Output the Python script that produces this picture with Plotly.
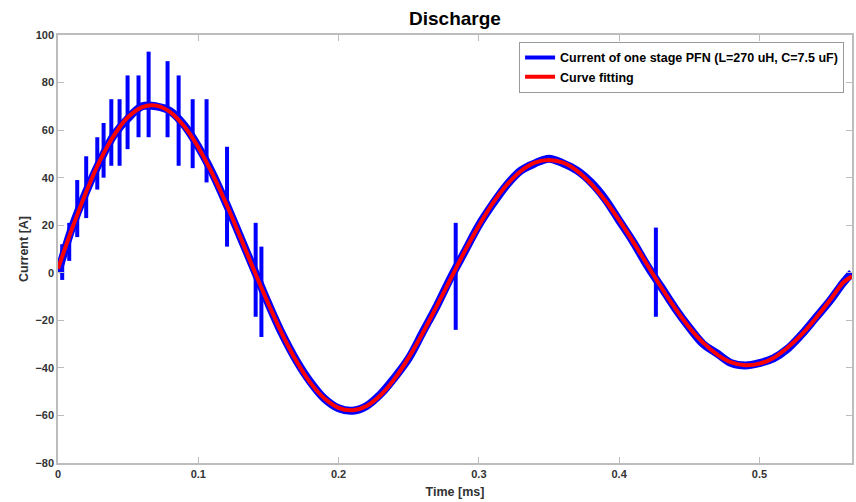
import plotly.graph_objects as go

# ---- data ----
time_ms = [0.00, 0.01, 0.02, 0.03, 0.04, 0.05, 0.06, 0.07, 0.08, 0.09,
           0.10, 0.11, 0.12, 0.13, 0.14, 0.15, 0.16, 0.17, 0.18, 0.19,
           0.20, 0.21, 0.22, 0.23, 0.24, 0.25, 0.26, 0.27, 0.28, 0.29,
           0.30, 0.31, 0.32, 0.33, 0.34, 0.35, 0.36, 0.37, 0.38, 0.39,
           0.40, 0.41, 0.42, 0.43, 0.44, 0.45, 0.46, 0.47, 0.48, 0.49,
           0.50, 0.51, 0.52, 0.53, 0.54, 0.55, 0.56, 0.566]

fit_current = [1.7, 18.5, 33.9, 47.3, 57.9, 65.5, 69.7, 70.3, 67.6, 61.6,
               52.8, 41.7, 28.9, 14.9, 0.7, -13.1, -26.0, -37.2, -46.3, -52.9,
               -56.8, -57.8, -56.0, -51.4, -44.5, -35.7, -25.3, -14.0, -2.4, 9.1,
               19.8, 29.3, 37.0, 42.8, 46.3, 47.4, 46.3, 42.9, 37.5, 30.5,
               22.1, 13.0, 3.4, -6.1, -15.0, -23.0, -29.5, -34.4, -37.7, -38.9,
               -38.2, -35.8, -31.5, -26.0, -19.2, -11.8, -4.0, -1.5]

measured_current = [0, 19, 34, 47, 58, 65, 70, 70, 68, 62,
                    53, 42, 29, 15, 1, -13, -26, -37, -46, -53,
                    -57, -58, -56, -51, -44, -36, -25, -14, -2, 9,
                    20, 29, 37, 43, 46, 48, 46, 43, 38, 31,
                    22, 13, 3, -6, -15, -23, -30, -34, -38, -39,
                    -38, -36, -32, -26, -19, -12, -4, 0]

# noise spikes on the measured current: time, top, bottom
spike_t = [0.003, 0.008, 0.0137, 0.0201, 0.028, 0.0325, 0.038, 0.0439, 0.0496,
           0.0574, 0.0646, 0.0781, 0.086, 0.096, 0.1059, 0.1205, 0.1409, 0.145,
           0.2835, 0.4262]
spike_hi = [12, 21, 39, 49, 57, 63, 73, 73, 83, 83, 93, 89, 83, 73, 73, 53, 21, 11, 21, 19]
spike_lo = [-3, 5, 15, 23, 35, 40, 45, 45, 52, 57, 57, 57, 45, 44, 38, 11, -18.5, -27, -24, -18.5]

x_ticks = [0, 0.1, 0.2, 0.3, 0.4, 0.5]
y_ticks = [-80, -60, -40, -20, 0, 20, 40, 60, 80, 100]

BLUE = "#0000ff"
RED = "#ff0000"
FONT = "Liberation Sans, Arial, sans-serif"

sx, sy = [], []
for t, hi, lo in zip(spike_t, spike_hi, spike_lo):
    sx += [t, t, None]
    sy += [hi, lo, None]

fig = go.Figure()
fig.add_trace(go.Scatter(x=time_ms, y=measured_current, mode="lines",
                         line=dict(color=BLUE, width=8, shape="spline"),
                         showlegend=False, legendgroup="cur", hoverinfo="skip"))
fig.add_trace(go.Scatter(x=sx, y=sy, mode="lines",
                         line=dict(color=BLUE, width=4),
                         name="Current of one stage PFN (L=270 uH, C=7.5 uF)",
                         legendgroup="cur"))
fig.add_trace(go.Scatter(x=time_ms, y=fit_current, mode="lines",
                         line=dict(color=RED, width=4, shape="spline"),
                         name="Curve fitting"))

axis_common = dict(showgrid=False, zeroline=False, showline=True, mirror="ticks",
                   linecolor="#bdbdbd", linewidth=1.5, ticks="inside",
                   ticklen=6, tickcolor="#bdbdbd", tickwidth=1,
                   tickfont=dict(family=FONT, size=11, color="#333333", weight="bold"))

fig.update_layout(
    width=856, height=502,
    margin=dict(l=58, r=4, t=35, b=39, autoexpand=False),
    paper_bgcolor="white", plot_bgcolor="white",
    title=dict(text="Discharge", x=0.5315, xanchor="center", y=0.963, yanchor="middle",
               font=dict(family=FONT, size=19, color="black", weight="bold")),
    xaxis=dict(range=[0, 0.566], tickvals=x_ticks,
               ticktext=[("%g" % v) for v in x_ticks],
               title=dict(text="Time [ms]", standoff=8,
                          font=dict(family=FONT, size=12.5, color="#333333", weight="bold")),
               **axis_common),
    yaxis=dict(range=[-80, 100], tickvals=y_ticks,
               title=dict(text="Current [A]", standoff=4,
                          font=dict(family=FONT, size=12.5, color="#333333", weight="bold")),
               **axis_common),
    legend=dict(x=0.990, xanchor="right", y=0.984, yanchor="top",
                bgcolor="white", bordercolor="#9a9a9a", borderwidth=1,
                font=dict(family=FONT, size=12.5, color="black", weight="bold"),
                tracegroupgap=0, itemwidth=30),
)

fig.write_html("out.html", config={"displayModeBar": False},
               post_script="document.body.style.margin='0';document.body.style.padding='0';")
